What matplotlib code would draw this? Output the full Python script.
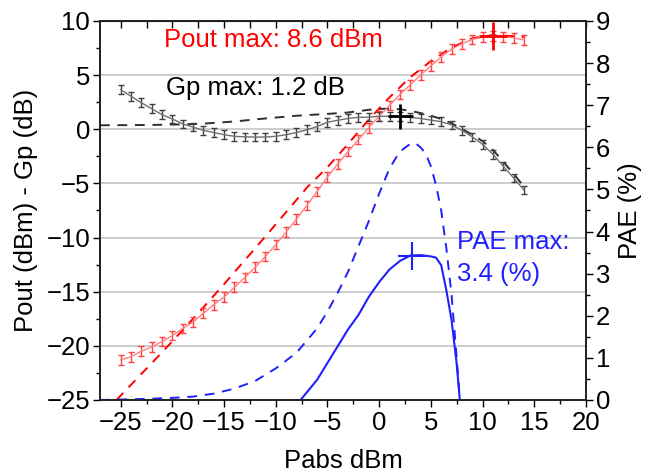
import matplotlib
matplotlib.use("Agg")
import matplotlib.pyplot as plt
from matplotlib.ticker import MultipleLocator

plt.rcParams['font.family'] = ['Liberation Sans', 'DejaVu Sans']

# Measured data (Pabs from -25 to 14 dBm, step 1)
pabs_meas = [-25, -24, -23, -22, -21, -20, -19, -18, -17, -16, -15, -14, -13, -12, -11,
             -10, -9, -8, -7, -6, -5, -4, -3, -2, -1, 0, 1, 2, 3, 4, 5, 6, 7, 8, 9,
             10, 11, 12, 13, 14]
pout_meas = [-21.3, -21.0, -20.5, -20.1, -19.6, -19.05, -18.4, -17.8, -17.0, -16.2,
             -15.5, -14.6, -13.7, -12.75, -11.75, -10.65, -9.5, -8.3, -7.05, -5.75,
             -4.4, -3.2, -2.05, -0.95, 0.15, 1.2, 2.2, 3.2, 4.1, 5.0,
             5.85, 6.7, 7.4, 7.9, 8.3, 8.5, 8.6, 8.55, 8.45, 8.25]
gp_meas = [3.65, 3.05, 2.45, 1.9, 1.35, 0.95, 0.5, 0.2, -0.1, -0.3,
           -0.5, -0.65, -0.7, -0.72, -0.72, -0.65, -0.5, -0.3, -0.05, 0.25,
           0.65, 0.83, 1.0, 1.1, 1.12, 1.2, 1.2, 1.2, 1.1, 1.0,
           0.85, 0.7, 0.4, -0.1, -0.7, -1.4, -2.3, -3.4, -4.5, -5.6]
pout_err = 0.45
gp_err = 0.4

# Measured PAE
pae_meas_x = [-7.6, -7, -6, -5, -4, -3, -2, -1, 0, 1, 2, 3, 4, 5, 5.5, 6, 6.5, 7, 7.5, 7.8]
pae_meas = [0.0, 0.18, 0.48, 0.88, 1.28, 1.68, 2.02, 2.45, 2.8, 3.1, 3.3, 3.43, 3.44, 3.41,
            3.38, 3.2, 2.6, 1.9, 0.85, 0.0]

# Simulated data (dashed)
gp_sim_x = [-27, -25, -22, -19, -17, -14, -11, -8, -5, -3, -1, 0.5, 2, 3, 4, 5, 6, 7, 8, 9,
            10, 11, 12, 13, 14]
gp_sim = [0.37, 0.38, 0.4, 0.45, 0.52, 0.72, 1.0, 1.25, 1.42, 1.55, 1.8, 1.9, 1.85, 1.7, 1.5,
          1.25, 0.95, 0.55, 0.05, -0.5, -1.1, -1.9, -3.0, -4.1, -5.3]
pout_sim_x = [-25.4, -23, -21, -19, -17, -15, -13, -11, -9, -7, -5, -3, -1, 1, 3, 5, 7, 9,
              11, 13, 14]
pout_sim = [-25.0, -22.6, -20.6, -18.55, -16.45, -14.3, -12.1, -9.9, -7.65, -5.4, -3.5,
            -1.35, 0.9, 2.95, 4.8, 6.3, 7.55, 8.4, 8.7, 8.6, 8.5]
pae_sim_x = [-27, -25, -22, -20, -18, -16, -14, -12, -10, -8, -6, -5, -4, -3, -2, -1, 0, 1,
             2, 3, 3.5, 4, 4.5, 5, 5.5, 6, 6.5, 7, 7.5, 7.8]
pae_sim = [0.0, 0.01, 0.03, 0.05, 0.08, 0.15, 0.27, 0.45, 0.75, 1.12, 1.7, 2.1, 2.55, 3.05,
           3.65, 4.25, 4.9, 5.5, 5.9, 6.08, 6.1, 6.0, 5.85, 5.55, 5.1, 4.5, 3.6, 2.5, 1.0, 0.0]

# Max markers
pout_max = (11, 8.6)
gp_max = (2, 1.2)
pae_max = (3.2, 3.43)

FS = 18.5
fig = plt.figure(figsize=(6.5, 4.76), dpi=100)
ax = fig.add_axes([0.1538, 0.1597, 0.7477, 0.7962])
ax2 = ax.twinx()

ax.set_xlim(-27, 20)
ax.set_ylim(-25, 10)
ax2.set_ylim(0, 9)

for y in [5, 0, -5, -10, -15, -20]:
    ax.axhline(y, color='#c8c8c8', lw=1.3, zorder=0)

# Simulated dashed
ax.plot(gp_sim_x, gp_sim, color='#303030', ls=(0, (5, 4)), lw=1.4, zorder=2)
ax.plot(pout_sim_x, pout_sim, color='#ff0000', ls=(0, (5, 4)), lw=1.4, zorder=2)

# Measured with error bars
ax.errorbar(pabs_meas, pout_meas, yerr=pout_err, color='#ff8080', ecolor='#ff4040',
            lw=1.0, elinewidth=1.0, capsize=2.5, capthick=1.0, zorder=3)
ax.errorbar(pabs_meas, gp_meas, yerr=gp_err, color='#707070', ecolor='#404040',
            lw=1.0, elinewidth=1.0, capsize=2.5, capthick=1.0, zorder=3)

ax.plot([pout_max[0]], [pout_max[1]], marker='+', ms=20, mew=2, color='#ff0000', zorder=5)
ax.plot([gp_max[0]], [gp_max[1]], marker='+', ms=18, mew=2, color='#000000', zorder=5)

# PAE
ax2.plot(pae_sim_x, pae_sim, color='#2020ff', ls=(0, (5, 4)), lw=1.4)
ax2.plot(pae_meas_x, pae_meas, color='#2020ff', lw=1.5)
ax2.plot([pae_max[0]], [pae_max[1]], marker='+', ms=20, mew=1.5, color='#2020ff')

# Annotations
ax.text(-20.8, 8.25, 'Pout max: 8.6 dBm', color='#ff0000', fontsize=FS, va='center', ha='left')
ax.text(-20.6, 3.8, 'Gp max: 1.2 dB', color='#000000', fontsize=FS, va='center', ha='left')
ax2.text(7.5, 3.76, 'PAE max:', color='#2020ff', fontsize=FS, va='center', ha='left')
ax2.text(7.5, 2.98, '3.4 (%)', color='#2020ff', fontsize=FS, va='center', ha='left')

# Ticks
ax.xaxis.set_major_locator(MultipleLocator(5))
ax.xaxis.set_minor_locator(MultipleLocator(2.5))
ax.yaxis.set_major_locator(MultipleLocator(5))
ax.yaxis.set_minor_locator(MultipleLocator(2.5))
ax2.yaxis.set_major_locator(MultipleLocator(1))
ax2.yaxis.set_minor_locator(MultipleLocator(0.5))

ax.tick_params(axis='x', which='both', direction='out', top=False, labelsize=FS, pad=3)
ax.tick_params(axis='x', which='major', length=5, width=1)
ax.tick_params(axis='x', which='minor', length=3, width=1)
ax.tick_params(axis='y', which='major', direction='out', length=5, width=1, labelsize=FS, pad=2)
ax.tick_params(axis='y', which='minor', direction='out', length=3, width=1)
ax2.tick_params(axis='y', which='major', direction='out', length=5, width=1, labelsize=FS, pad=2)
ax2.tick_params(axis='y', which='minor', direction='out', length=3, width=1)

# Top axis ticks (inward, no labels)
secx = ax.secondary_xaxis('top')
secx.xaxis.set_major_locator(MultipleLocator(2.5))
secx.tick_params(axis='x', direction='in', length=5, width=1, labeltop=False)
secx.xaxis.set_minor_locator(MultipleLocator(100))

for a in (ax, ax2):
    for s in a.spines.values():
        s.set_linewidth(1.2)
        s.set_color('#202020')

ax.set_xlabel('Pabs dBm', fontsize=FS, labelpad=10)
ax.set_ylabel('Pout (dBm) - Gp (dB)', fontsize=FS, labelpad=6)
ax2.set_ylabel('PAE (%)', fontsize=FS, labelpad=6)

fig.savefig('out.png', dpi=100)
